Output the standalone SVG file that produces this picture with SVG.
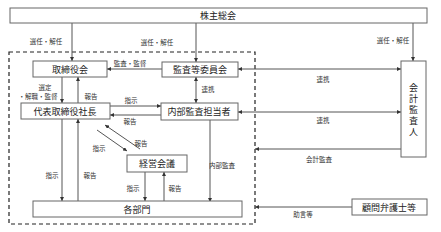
<svg xmlns="http://www.w3.org/2000/svg" width="441" height="232" viewBox="0 0 441 232">
<style>
.box{fill:#fff;stroke:#666;stroke-width:1}
.bt{font-family:"Noto Sans CJK JP","Noto Sans",sans-serif;font-size:9px;fill:#222;text-anchor:middle;dominant-baseline:central}
.vt{font-family:"Noto Sans CJK JP","Noto Sans",sans-serif;font-size:9px;fill:#222;text-anchor:middle;writing-mode:vertical-rl;letter-spacing:2px}
.lt{font-family:"Noto Sans CJK JP","Noto Sans",sans-serif;font-size:6.5px;fill:#333;text-anchor:middle;dominant-baseline:central}
.c{fill:none;stroke:#555;stroke-width:1}
</style>
<defs>
<marker id="ah" viewBox="0 0 6 6" refX="6" refY="3" markerWidth="4" markerHeight="4" orient="auto-start-reverse" markerUnits="userSpaceOnUse">
<path d="M0,0 L6,3 L0,6 z" fill="#333"/>
</marker>
</defs>
<rect x="0" y="0" width="441" height="232" fill="#fff"/>
<rect x="9" y="52" width="246" height="172" fill="none" stroke="#222" stroke-width="1.2" stroke-dasharray="4,3"/>

<g id="connectors">
<path class="c" d="M72,23 V61" marker-end="url(#ah)"/>
<path class="c" d="M196,23 V62" marker-end="url(#ah)"/>
<path class="c" d="M413,23 V61" marker-end="url(#ah)"/>
<path class="c" d="M162,69 H107" marker-end="url(#ah)"/>
<path class="c" d="M238,69 H401" marker-start="url(#ah)" marker-end="url(#ah)"/>
<path class="c" d="M62,77 V103" marker-end="url(#ah)"/>
<path class="c" d="M78,103 V77" marker-end="url(#ah)"/>
<path class="c" d="M196,77 V103" marker-start="url(#ah)" marker-end="url(#ah)"/>
<path class="c" d="M110,106 H161" marker-end="url(#ah)"/>
<path class="c" d="M161,115 H110" marker-end="url(#ah)"/>
<path class="c" d="M238,112 H401" marker-start="url(#ah)" marker-end="url(#ah)"/>
<path class="c" d="M401,149 H255" marker-end="url(#ah)"/>
<path class="c" d="M352,207 H255" marker-end="url(#ah)"/>
<path class="c" d="M97,130 L127,151" marker-end="url(#ah)"/>
<path class="c" d="M140,149 L105,125" marker-end="url(#ah)"/>
<path class="c" d="M62,119 V201" marker-end="url(#ah)"/>
<path class="c" d="M78,201 V119" marker-end="url(#ah)"/>
<path class="c" d="M145,172 V201" marker-end="url(#ah)"/>
<path class="c" d="M164,201 V172" marker-end="url(#ah)"/>
<path class="c" d="M210,120 V202" marker-end="url(#ah)"/>
<text class="lt" x="46" y="41">選任・解任</text>
<text class="lt" x="157" y="42">選任・解任</text>
<text class="lt" x="393" y="40">選任・解任</text>
<text class="lt" x="130" y="63">監査・監督</text>
<text class="lt" x="323" y="79">連携</text>
<text class="lt" x="45" y="87">選定</text>
<text class="lt" x="38" y="96">・解職・監督</text>
<text class="lt" x="91" y="96">報告</text>
<text class="lt" x="208" y="89">連携</text>
<text class="lt" x="131" y="100">指示</text>
<text class="lt" x="130" y="121">報告</text>
<text class="lt" x="323" y="120">連携</text>
<text class="lt" x="319" y="159">会計監査</text>
<text class="lt" x="303" y="214">助言等</text>
<text class="lt" x="99" y="148">指示</text>
<text class="lt" x="141" y="143">報告</text>
<text class="lt" x="52" y="175">指示</text>
<text class="lt" x="90" y="175">報告</text>
<text class="lt" x="133" y="188">指示</text>
<text class="lt" x="175" y="188">報告</text>
<text class="lt" x="222" y="165">内部監査</text>
</g>

<g id="shareholders">
<rect class="box" x="10" y="8" width="417" height="15"/>
<text class="bt" x="218" y="15.5">株主総会</text>
</g>
<g id="board">
<rect class="box" x="33" y="61" width="74" height="16"/>
<text class="bt" x="70" y="69">取締役会</text>
</g>
<g id="audit-committee">
<rect class="box" x="162" y="62" width="76" height="15"/>
<text class="bt" x="200" y="69.5">監査等委員会</text>
</g>
<g id="president">
<rect class="box" x="21" y="103" width="89" height="16"/>
<text class="bt" x="65" y="111">代表取締役社長</text>
</g>
<g id="internal-audit">
<rect class="box" x="161" y="103" width="77" height="17"/>
<text class="bt" x="199" y="111.5">内部監査担当者</text>
</g>
<g id="management-meeting">
<rect class="box" x="127" y="155" width="60" height="17"/>
<text class="bt" x="157" y="163.5">経営会議</text>
</g>
<g id="departments">
<rect class="box" x="33" y="201" width="209" height="16"/>
<text class="bt" x="137" y="209">各部門</text>
</g>
<g id="accounting-auditor">
<rect class="box" x="401" y="61" width="25" height="96"/>
<text class="vt" x="413.5" y="111">会計監査人</text>
</g>
<g id="legal-advisor">
<rect class="box" x="352" y="199" width="75" height="16"/>
<text class="bt" x="389" y="207">顧問弁護士等</text>
</g>
</svg>
